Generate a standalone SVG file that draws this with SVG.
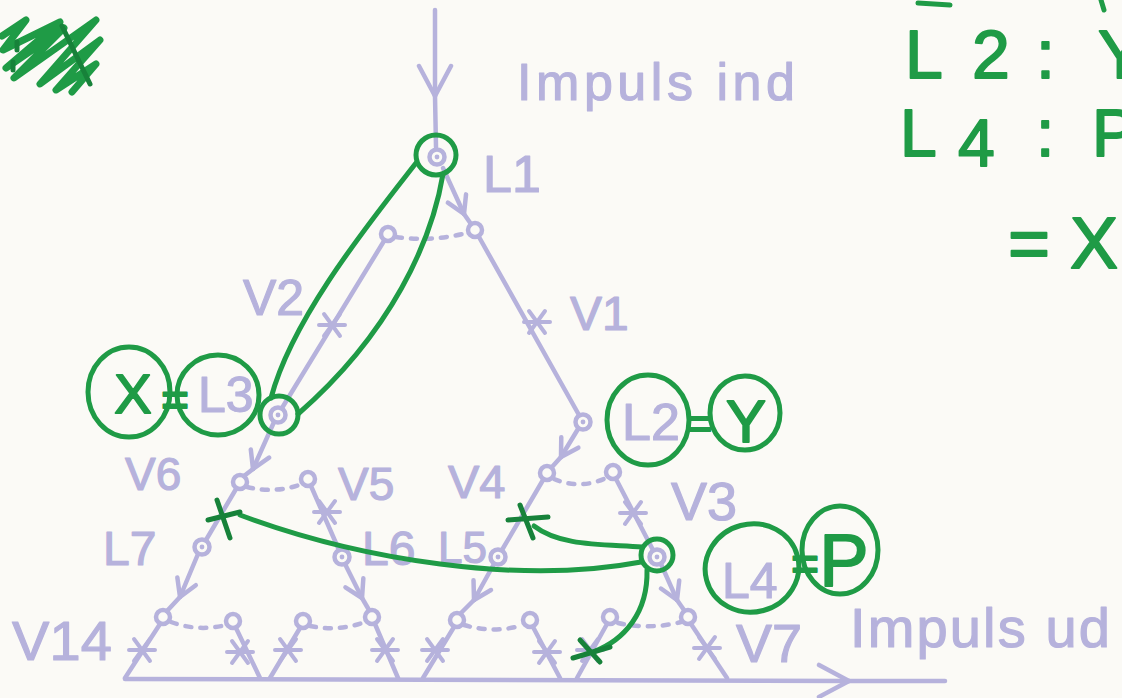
<svg xmlns="http://www.w3.org/2000/svg" width="1122" height="698" viewBox="0 0 1122 698">
<style>
.lv{stroke:#b6b2dc;stroke-width:4.5;fill:none;stroke-linecap:round;stroke-linejoin:round}
.dash{stroke-dasharray:6 9}
.lt{fill:#b6b2dc;font-family:"Liberation Sans",Arial,sans-serif;stroke:#b6b2dc;stroke-width:1.2;stroke-linejoin:round}
.gr{stroke:#1f9b46;stroke-width:5;fill:none;stroke-linecap:round;stroke-linejoin:round}
.gd{stroke:#17823a;stroke-width:5;fill:none;stroke-linecap:round}
.gt{fill:#1f9b46;font-family:"Liberation Sans",Arial,sans-serif;stroke:#1f9b46;stroke-width:1.8;stroke-linejoin:round}
</style>
<defs>
<marker id="ch" viewBox="-20 -13 22 26" markerWidth="22" markerHeight="26" markerUnits="userSpaceOnUse" orient="auto" refX="0" refY="0">
<path d="M-17 -10 L0 0 L-17 10" fill="none" stroke="#b6b2dc" stroke-width="4.5" stroke-linecap="round" stroke-linejoin="round"/>
</marker>
<marker id="chL" viewBox="-34 -20 36 40" markerWidth="36" markerHeight="40" markerUnits="userSpaceOnUse" orient="auto" refX="0" refY="0">
<path d="M-30 -16 L0 0 L-30 16" fill="none" stroke="#b6b2dc" stroke-width="4.5" stroke-linecap="round" stroke-linejoin="round"/>
</marker>
<g id="o"><circle r="7" fill="none" stroke="#b6b2dc" stroke-width="4.5"/></g>
<g id="od"><circle r="7.5" fill="none" stroke="#b6b2dc" stroke-width="4.5"/><circle r="2.4" fill="#b6b2dc"/></g>
<g id="st"><path d="M-13 0H13M-8 -11L8 11M8 -11L-8 11" fill="none" stroke="#b6b2dc" stroke-width="4" stroke-linecap="round"/></g>
</defs>
<rect width="1122" height="698" fill="#fbfaf6"/>

<g id="scribble">
<path class="gr" style="stroke-width:7" d="M2 36 L26 20 L3 50 L60 22 L6 68 L64 28 L14 78 L96 20 L40 84 L100 40 L56 90 L96 64 L72 92"/>
<path class="gd" d="M62 26 L90 84 M17 42 L17 50 M13 62 L13 70"/>
</g>

<g id="connectors">
<path class="lv" d="M435 10 L435 96" marker-end="url(#chL)"/>
<path class="lv" d="M435 96 L436 147"/>
<path class="lv" d="M443 168 L464 214" marker-end="url(#ch)"/>
<path class="lv" d="M464 214 L471 224"/>
<path class="lv dash" d="M396 237 Q430 242 467 233"/>
<path class="lv" d="M479 237 L579 415"/>
<path class="lv" d="M384 241 L282 408"/>
<path class="lv" d="M274 422 L253 469" marker-end="url(#ch)"/>
<path class="lv" d="M253 469 L244 476"/>
<path class="lv" d="M578 429 L561 457" marker-end="url(#ch)"/>
<path class="lv" d="M561 457 L552 467"/>
<path class="lv dash" d="M247 487 Q275 494 302 484"/>
<path class="lv dash" d="M554 479 Q580 490 606 478"/>
<path class="lv" d="M236 489 L206 540"/>
<path class="lv" d="M311 486 L339 550"/>
<path class="lv" d="M543 480 L502 550"/>
<path class="lv" d="M616 479 L653 550"/>
<path class="lv" d="M198 554 L180 597" marker-end="url(#ch)"/>
<path class="lv" d="M180 597 L167 611"/>
<path class="lv" d="M345 564 L362 598" marker-end="url(#ch)"/>
<path class="lv" d="M362 598 L369 610"/>
<path class="lv" d="M494 564 L474 600" marker-end="url(#ch)"/>
<path class="lv" d="M474 600 L461 613"/>
<path class="lv" d="M661 564 L677 600" marker-end="url(#ch)"/>
<path class="lv" d="M677 600 L684 610"/>
<path class="lv dash" d="M171 622 Q198 632 226 625"/>
<path class="lv dash" d="M310 626 Q338 632 365 622"/>
<path class="lv dash" d="M464 625 Q494 634 523 625"/>
<path class="lv dash" d="M618 623 Q650 630 681 622"/>
<path class="lv" d="M160 624 L125 678 M236 628 L260 678 M300 628 L270 678 M375 624 L398 678 M454 627 L423 678 M533 627 L560 678 M607 624 L577 678 M691 624 L727 678"/>
<path class="lv" d="M125 679 L849 681" marker-end="url(#chL)"/>
<path class="lv" d="M849 681 L945 681"/>
<use href="#st" x="537" y="322"/>
<use href="#st" x="332" y="325"/>
<use href="#st" x="327" y="512"/>
<use href="#st" x="633" y="513"/>
<use href="#st" x="142" y="650"/>
<use href="#st" x="240" y="652"/>
<use href="#st" x="288" y="650"/>
<use href="#st" x="385" y="650"/>
<use href="#st" x="435" y="650"/>
<use href="#st" x="547" y="652"/>
<use href="#st" x="590" y="650"/>
<use href="#st" x="707" y="648"/>
</g>

<text class="lt" x="517" y="100" font-size="52" textLength="278" lengthAdjust="spacing">Impuls ind</text>

<g id="L1"><use href="#od" x="437" y="157"/><text class="lt" x="483" y="192" font-size="52">L1</text></g>
<g id="V1top"><use href="#o" x="475" y="230"/></g>
<g id="V2top"><use href="#o" x="388" y="234"/></g>
<g id="V1"><text class="lt" x="570" y="330" font-size="48">V1</text></g>
<g id="V2"><text class="lt" x="243" y="315" font-size="50">V2</text></g>
<g id="L3"><use href="#od" x="278" y="415"/><text class="lt" x="198" y="412" font-size="50">L3</text></g>
<g id="L2"><use href="#od" x="583" y="422"/><text class="lt" x="622" y="440" font-size="52">L2</text></g>
<g id="V6"><use href="#o" x="240" y="482"/><text class="lt" x="125" y="490" font-size="46">V6</text></g>
<g id="V5"><use href="#o" x="308" y="479"/><text class="lt" x="338" y="500" font-size="46">V5</text></g>
<g id="V4"><use href="#o" x="547" y="473"/><text class="lt" x="448" y="498" font-size="47">V4</text></g>
<g id="V3"><use href="#o" x="613" y="472"/><text class="lt" x="671" y="520" font-size="54">V3</text></g>
<g id="L7"><use href="#od" x="202" y="547"/><text class="lt" x="103" y="565" font-size="48">L7</text></g>
<g id="L6"><use href="#od" x="342" y="557"/><text class="lt" x="362" y="565" font-size="48">L6</text></g>
<g id="L5"><use href="#od" x="498" y="557"/><text class="lt" x="438" y="563" font-size="44">L5</text></g>
<g id="L4"><use href="#od" x="657" y="557"/><text class="lt" x="722" y="598" font-size="50">L4</text></g>
<g id="bottom">
<use href="#o" x="163" y="617"/><use href="#o" x="233" y="621"/><use href="#o" x="303" y="621"/><use href="#o" x="372" y="617"/>
<use href="#o" x="457" y="620"/><use href="#o" x="530" y="620"/><use href="#o" x="610" y="617"/><use href="#o" x="688" y="617"/>
</g>
<g id="V14"><text class="lt" x="12" y="660" font-size="56" textLength="100" lengthAdjust="spacing">V14</text></g>
<g id="V7"><text class="lt" x="736" y="662" font-size="54">V7</text></g>
<text class="lt" x="850" y="647" font-size="56" textLength="260" lengthAdjust="spacing">Impuls ud</text>

<g id="green">
<circle class="gr" cx="436" cy="155" r="20"/>
<circle class="gr" cx="279" cy="415" r="19"/>
<path class="gr" d="M416 163 C370 222 292 318 271 398"/>
<path class="gr" d="M443 174 C432 240 392 332 298 414"/>
<ellipse class="gr" cx="129" cy="392" rx="41" ry="45"/>
<ellipse class="gr" cx="218" cy="395" rx="41" ry="40"/>
<text class="gt" x="133" y="413" font-size="56" text-anchor="middle">X</text>
<text class="gt" x="175" y="416" font-size="48" text-anchor="middle">=</text>
<ellipse class="gr" cx="648" cy="420" rx="41" ry="45"/>
<ellipse class="gr" cx="745" cy="413" rx="35" ry="37"/>
<text class="gt" x="700" y="438" font-size="42" text-anchor="middle">=</text>
<text class="gt" x="746" y="442" font-size="60" text-anchor="middle">Y</text>
<ellipse class="gr" cx="752" cy="568" rx="47" ry="44" transform="rotate(-15 752 568)"/>
<ellipse class="gr" cx="840" cy="550" rx="38" ry="44"/>
<text class="gt" x="805" y="580" font-size="48" text-anchor="middle">=</text>
<text class="gt" x="844" y="586" font-size="74" text-anchor="middle">P</text>
<circle class="gr" cx="657" cy="555" r="16"/>
<path class="gr" d="M641 562 C520 585 360 560 240 515"/>
<path class="gr" d="M642 547 C600 544 560 546 534 526"/>
<path class="gr" d="M647 570 C648 612 625 640 593 652"/>
<path class="gd" d="M217 500 L230 538 M208 520 L240 512"/>
<path class="gd" d="M520 505 L533 538 M508 520 L548 517"/>
<path class="gd" d="M580 640 L600 662 M573 658 L610 647"/>
</g>

<g id="notes">
<path class="gr" d="M918 3 L950 5 M1101 0 L1104 10"/>
<text class="gt" y="78" font-size="68"><tspan x="905">L</tspan><tspan x="972">2</tspan><tspan x="1036">:</tspan><tspan x="1098">Y</tspan></text>
<text class="gt" y="156" font-size="66"><tspan x="900">L</tspan><tspan x="958" dy="10">4</tspan><tspan x="1036" dy="-10">:</tspan><tspan x="1092">P</tspan></text>
<text class="gt" y="268" font-size="72"><tspan x="1008">=</tspan><tspan x="1070">X</tspan></text>
</g>
</svg>
